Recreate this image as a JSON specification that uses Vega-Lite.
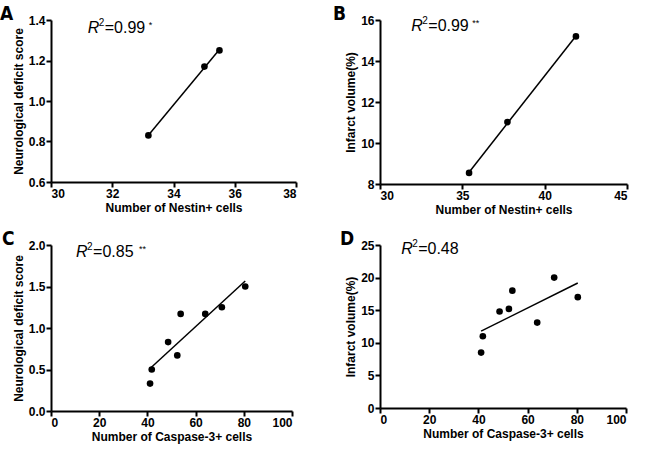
{
  "$schema": "https://vega.github.io/schema/vega-lite/v6.json",
  "background": "white",
  "padding": {"left": 0, "top": 5, "right": 5, "bottom": 5},
  "datasets": {
    "a": [{"cells": 33.18, "score": 0.83}, {"cells": 35.01, "score": 1.17}, {"cells": 35.5, "score": 1.25}],
    "b": [{"cells": 35.41, "volume": 8.54}, {"cells": 37.74, "volume": 11.02}, {"cells": 41.9, "volume": 15.2}],
    "c": [{"cells": 41.1, "score": 0.33}, {"cells": 41.8, "score": 0.5}, {"cells": 48.6, "score": 0.83}, {"cells": 52.4, "score": 0.67}, {"cells": 53.8, "score": 1.17}, {"cells": 64.0, "score": 1.17}, {"cells": 70.9, "score": 1.25}, {"cells": 80.6, "score": 1.5}],
    "d": [{"cells": 41.1, "volume": 8.5}, {"cells": 41.8, "volume": 11.0}, {"cells": 48.6, "volume": 14.8}, {"cells": 52.4, "volume": 15.2}, {"cells": 53.8, "volume": 18.0}, {"cells": 63.9, "volume": 13.1}, {"cells": 70.8, "volume": 20.0}, {"cells": 80.4, "volume": 17.0}]
  },
  "config": {
    "view": {"stroke": null},
    "font": "Liberation Sans",
    "axis": {"grid": false, "labelOverlap": false, "domainColor": "black", "domainWidth": 2, "tickColor": "black", "tickWidth": 2, "tickSize": 5, "labelFont": "Liberation Sans", "labelFontWeight": "bold", "labelFontSize": 12, "labelColor": "black", "labelPadding": 1, "titleFont": "Liberation Sans", "titleFontWeight": "bold", "titleFontSize": 12, "titleColor": "black", "titlePadding": 3},
    "title": {"anchor": "start", "frame": "group", "fontSize": 19, "font": "DejaVu Sans Condensed, Liberation Sans", "fontWeight": "bold", "color": "black", "offset": -10}
  },
  "columns": 2,
  "spacing": {"row": 15, "column": 36},
  "concat": [
        {
          "title": {"text": "A", "dx": -51},
          "width": 245, "height": 162,
          "data": {"name": "a"},
          "layer": [
            {"mark": {"type": "point", "filled": true, "color": "black", "size": 44, "opacity": 1},
             "encoding": {
               "x": {"field": "cells", "type": "quantitative", "title": "Number of Nestin+ cells", "scale": {"domain": [30, 38], "nice": false, "zero": false}, "axis": {"values": [30, 32, 34, 36, 38], "tickCount": 5}},
               "y": {"field": "score", "type": "quantitative", "title": "Neurological deficit score", "scale": {"domain": [0.6, 1.4], "nice": false, "zero": false}, "axis": {"values": [0.6, 0.8, 1.0, 1.2, 1.4], "tickCount": 5, "format": ".1f"}}
             }},
            {"transform": [{"regression": "score", "on": "cells"}],
             "mark": {"type": "line", "color": "black", "strokeWidth": 1.5},
             "encoding": {"x": {"field": "cells", "type": "quantitative"}, "y": {"field": "score", "type": "quantitative"}}},
            {"data": {"values": [{"t": "R"}]}, "mark": {"type": "text", "fontStyle": "italic", "fontSize": 16, "align": "left", "baseline": "alphabetic", "color": "black"},
             "encoding": {"x": {"datum": 31.2}, "y": {"datum": 1.336}, "text": {"field": "t"}}},
            {"data": {"values": [{"t": "2"}]}, "mark": {"type": "text", "fontSize": 10, "align": "left", "baseline": "alphabetic", "dx": 11, "dy": -7, "color": "black"},
             "encoding": {"x": {"datum": 31.2}, "y": {"datum": 1.336}, "text": {"field": "t"}}},
            {"data": {"values": [{"t": "=0.99"}]}, "mark": {"type": "text", "fontSize": 16, "align": "left", "baseline": "alphabetic", "dx": 17, "color": "black"},
             "encoding": {"x": {"datum": 31.2}, "y": {"datum": 1.336}, "text": {"field": "t"}}},
            {"data": {"values": [{"t": "*"}]}, "mark": {"type": "text", "fontSize": 9, "align": "left", "baseline": "alphabetic", "dx": 61, "dy": -5, "color": "black"},
             "encoding": {"x": {"datum": 31.2}, "y": {"datum": 1.336}, "text": {"field": "t"}}}
          ]
        },
        {
          "title": {"text": "B", "dx": -47},
          "width": 247, "height": 164,
          "data": {"name": "b"},
          "layer": [
            {"mark": {"type": "point", "filled": true, "color": "black", "size": 44, "opacity": 1},
             "encoding": {
               "x": {"field": "cells", "type": "quantitative", "title": "Number of Nestin+ cells", "scale": {"domain": [30, 45], "nice": false, "zero": false}, "axis": {"values": [30, 35, 40, 45], "tickCount": 4}},
               "y": {"field": "volume", "type": "quantitative", "title": "Infarct volume(%)", "scale": {"domain": [8, 16], "nice": false, "zero": false}, "axis": {"values": [8, 10, 12, 14, 16], "tickCount": 5}}
             }},
            {"transform": [{"regression": "volume", "on": "cells"}],
             "mark": {"type": "line", "color": "black", "strokeWidth": 1.5},
             "encoding": {"x": {"field": "cells", "type": "quantitative"}, "y": {"field": "volume", "type": "quantitative"}}},
            {"data": {"values": [{"t": "R"}]}, "mark": {"type": "text", "fontStyle": "italic", "fontSize": 16, "align": "left", "baseline": "alphabetic", "color": "black"},
             "encoding": {"x": {"datum": 31.9}, "y": {"datum": 15.48}, "text": {"field": "t"}}},
            {"data": {"values": [{"t": "2"}]}, "mark": {"type": "text", "fontSize": 10, "align": "left", "baseline": "alphabetic", "dx": 11, "dy": -7, "color": "black"},
             "encoding": {"x": {"datum": 31.9}, "y": {"datum": 15.48}, "text": {"field": "t"}}},
            {"data": {"values": [{"t": "=0.99"}]}, "mark": {"type": "text", "fontSize": 16, "align": "left", "baseline": "alphabetic", "dx": 17, "color": "black"},
             "encoding": {"x": {"datum": 31.9}, "y": {"datum": 15.48}, "text": {"field": "t"}}},
            {"data": {"values": [{"t": "**"}]}, "mark": {"type": "text", "fontSize": 9, "align": "left", "baseline": "alphabetic", "dx": 61, "dy": -5, "color": "black"},
             "encoding": {"x": {"datum": 31.9}, "y": {"datum": 15.48}, "text": {"field": "t"}}}
          ]
        },
        {
          "title": {"text": "C", "dx": -49},
          "width": 241, "height": 166,
          "data": {"name": "c"},
          "layer": [
            {"mark": {"type": "point", "filled": true, "color": "black", "size": 44, "opacity": 1},
             "encoding": {
               "x": {"field": "cells", "type": "quantitative", "title": "Number of Caspase-3+ cells", "scale": {"domain": [0, 100], "nice": false}, "axis": {"values": [0, 20, 40, 60, 80, 100], "tickCount": 6}},
               "y": {"field": "score", "type": "quantitative", "title": "Neurological deficit score", "scale": {"domain": [0, 2], "nice": false}, "axis": {"values": [0, 0.5, 1.0, 1.5, 2.0], "tickCount": 5, "format": ".1f"}}
             }},
            {"transform": [{"regression": "score", "on": "cells"}],
             "mark": {"type": "line", "color": "black", "strokeWidth": 1.5},
             "encoding": {"x": {"field": "cells", "type": "quantitative"}, "y": {"field": "score", "type": "quantitative"}}},
            {"data": {"values": [{"t": "R"}]}, "mark": {"type": "text", "fontStyle": "italic", "fontSize": 16, "align": "left", "baseline": "alphabetic", "color": "black"},
             "encoding": {"x": {"datum": 10.4}, "y": {"datum": 1.859}, "text": {"field": "t"}}},
            {"data": {"values": [{"t": "2"}]}, "mark": {"type": "text", "fontSize": 10, "align": "left", "baseline": "alphabetic", "dx": 11, "dy": -7, "color": "black"},
             "encoding": {"x": {"datum": 10.4}, "y": {"datum": 1.859}, "text": {"field": "t"}}},
            {"data": {"values": [{"t": "=0.85"}]}, "mark": {"type": "text", "fontSize": 16, "align": "left", "baseline": "alphabetic", "dx": 17, "color": "black"},
             "encoding": {"x": {"datum": 10.4}, "y": {"datum": 1.859}, "text": {"field": "t"}}},
            {"data": {"values": [{"t": "**"}]}, "mark": {"type": "text", "fontSize": 9, "align": "left", "baseline": "alphabetic", "dx": 63, "dy": -5, "color": "black"},
             "encoding": {"x": {"datum": 10.4}, "y": {"datum": 1.859}, "text": {"field": "t"}}}
          ]
        },
        {
          "title": {"text": "D", "dx": -40},
          "width": 246, "height": 163,
          "data": {"name": "d"},
          "layer": [
            {"mark": {"type": "point", "filled": true, "color": "black", "size": 44, "opacity": 1},
             "encoding": {
               "x": {"field": "cells", "type": "quantitative", "title": "Number of Caspase-3+ cells", "scale": {"domain": [0, 100], "nice": false}, "axis": {"values": [0, 20, 40, 60, 80, 100], "tickCount": 6}},
               "y": {"field": "volume", "type": "quantitative", "title": "Infarct volume(%)", "scale": {"domain": [0, 25], "nice": false}, "axis": {"values": [0, 5, 10, 15, 20, 25], "tickCount": 6}}
             }},
            {"transform": [{"regression": "volume", "on": "cells"}],
             "mark": {"type": "line", "color": "black", "strokeWidth": 1.5},
             "encoding": {"x": {"field": "cells", "type": "quantitative"}, "y": {"field": "volume", "type": "quantitative"}}},
            {"data": {"values": [{"t": "R"}]}, "mark": {"type": "text", "fontStyle": "italic", "fontSize": 16, "align": "left", "baseline": "alphabetic", "color": "black"},
             "encoding": {"x": {"datum": 8.6}, "y": {"datum": 23.6}, "text": {"field": "t"}}},
            {"data": {"values": [{"t": "2"}]}, "mark": {"type": "text", "fontSize": 10, "align": "left", "baseline": "alphabetic", "dx": 11, "dy": -7, "color": "black"},
             "encoding": {"x": {"datum": 8.6}, "y": {"datum": 23.6}, "text": {"field": "t"}}},
            {"data": {"values": [{"t": "=0.48"}]}, "mark": {"type": "text", "fontSize": 16, "align": "left", "baseline": "alphabetic", "dx": 17, "color": "black"},
             "encoding": {"x": {"datum": 8.6}, "y": {"datum": 23.6}, "text": {"field": "t"}}}
          ]
        }
  ]
}
